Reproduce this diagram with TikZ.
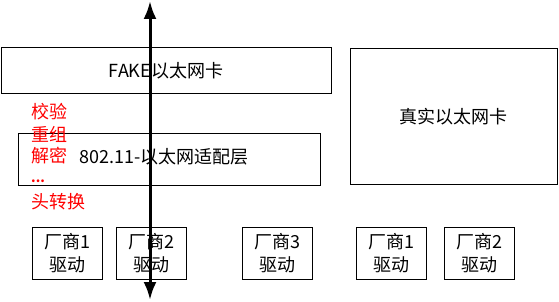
\documentclass[tikz,border=0pt]{standalone}
\usepackage{fontspec}
\newfontfamily\cjk{Noto Sans CJK SC}
\usetikzlibrary{positioning, arrows.meta}

\begin{document}
\begin{tikzpicture}[x=1pt, y=-1pt,
    box/.style={draw, line width=1pt, inner sep=0pt, align=center,
        font=\cjk\fontsize{18}{23}\selectfont},
    drv/.style={box, minimum width=70pt, minimum height=52pt},
    note/.style={anchor=west, inner sep=0pt, text=red,
        font=\cjk\fontsize{18}{20}\selectfont}]
    \useasboundingbox (0,0) rectangle (559,302);

    % Ethernet cards and adapter layer
    \node[box, minimum width=330pt, minimum height=46pt] (fake) at (166,71) {FAKE以太网卡};
    \node[box, minimum width=207pt, minimum height=135pt] (real) at (453.5,116.5) {真实以太网卡};
    \node[box, minimum width=302pt, minimum height=52pt] (adapt) at (169,159) {};
    \node[anchor=west, inner sep=0pt, font=\cjk\fontsize{18}{20}\selectfont] (adtext) at (79,157) {802.11-以太网适配层};

    % Tasks of the adapter layer
    \node[note] (check) at (31,112) {校验};
    \node[note] (reasm) at (31,134) {重组};
    \node[note] (decr) at (31,156) {解密};
    \node[note, font=\cjk\fontsize{13}{15}\bfseries] (dots) at (31,181) {...};
    \node[note] (hdr) at (31,202) {头转换};

    % Vendor drivers
    \node[drv] (drvA) at (67,253) {厂商1\\驱动};
    \node[drv] (drvB) at (151,253) {厂商2\\驱动};
    \node[drv] (drvC) at (277.5,253) {厂商3\\驱动};
    \node[drv] (drvD) at (391,253) {厂商1\\驱动};
    \node[drv] (drvE) at (479,253) {厂商2\\驱动};

    % Data path
    \coordinate (top) at (150,1);
    \coordinate (bot) at (150,300);
    \draw[line width=3pt, {Latex[length=18pt,width=13pt]}-{Latex[length=18pt,width=13pt]}] (top) -- (bot);
\end{tikzpicture}
\end{document}
